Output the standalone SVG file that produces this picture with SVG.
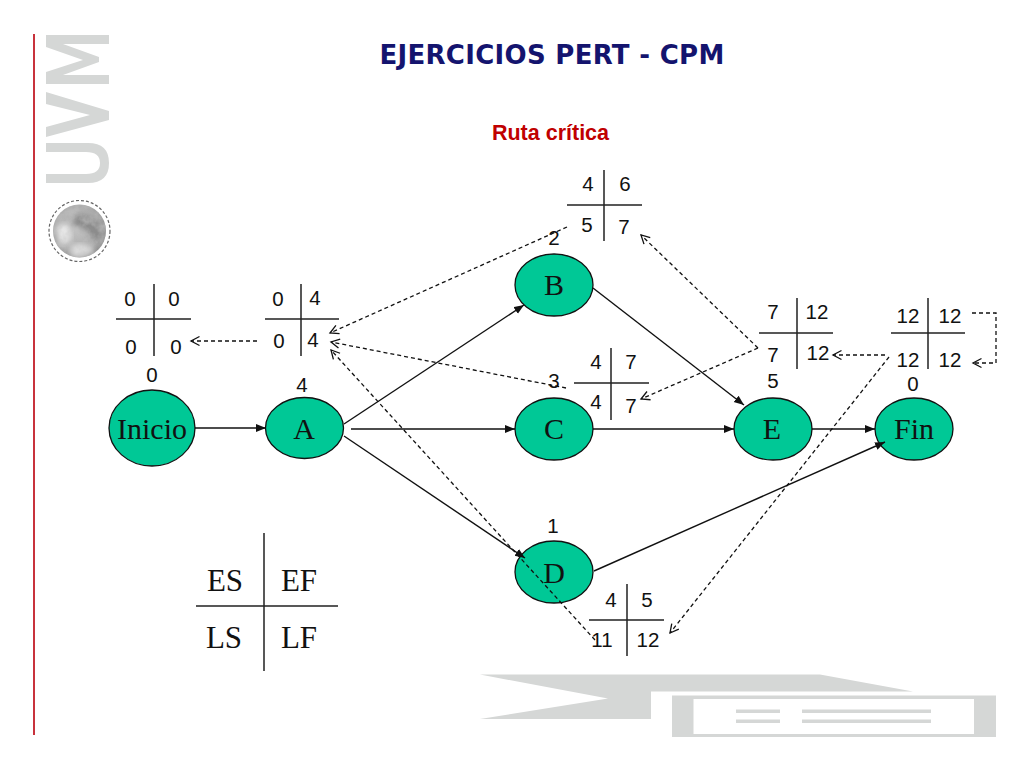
<svg xmlns="http://www.w3.org/2000/svg" width="1024" height="768" viewBox="0 0 1024 768">
<style>
text{font-family:"Liberation Sans",Arial,sans-serif}
.n{font-size:20.5px;fill:#111;text-anchor:middle}
.t{font-family:"Liberation Serif","Times New Roman",serif;font-size:30px;fill:#111;text-anchor:middle}
.b{font-family:"Liberation Serif","Times New Roman",serif;font-size:31px;fill:#111;text-anchor:middle}
.g{stroke:#222;stroke-width:1.5;fill:none}
.e{fill:#00c896;stroke:#111;stroke-width:1.3}
.c{stroke:#111;stroke-width:1.4;fill:none;marker-end:url(#s)}
.d{stroke:#111;stroke-width:1.3;stroke-dasharray:4 3;fill:none;marker-end:url(#o)}
.q{fill:#d5d7d6}
</style>
<defs>
<marker id="s" markerWidth="12" markerHeight="10" refX="10" refY="4" orient="auto" markerUnits="userSpaceOnUse"><path d="M0 0L10 4L0 8z" fill="#111"/></marker>
<marker id="o" markerWidth="12" markerHeight="12" refX="9.5" refY="5.5" orient="auto" markerUnits="userSpaceOnUse"><path d="M1 1L9.5 5.5L1 10" fill="none" stroke="#111" stroke-width="1.3"/></marker>
<radialGradient id="m" cx=".45" cy=".45" r=".6"><stop offset="0" stop-color="#c4c4c4"/><stop offset=".75" stop-color="#aaa"/><stop offset="1" stop-color="#8a8a8a"/></radialGradient>
<filter id="cloud" x="0" y="0" width="1" height="1"><feTurbulence type="fractalNoise" baseFrequency=".12" numOctaves="3" seed="4"/><feColorMatrix values="0 0 0 0 .55 0 0 0 0 .55 0 0 0 0 .55 1.6 0 0 0 -.55"/><feComposite in2="SourceAlpha" operator="in"/></filter>
<filter id="soft"><feGaussianBlur stdDeviation="2.5"/></filter>
<clipPath id="gl"><circle cx="79.5" cy="231" r="26.5"/></clipPath>
</defs>
<g id="decoration">
<rect x="33" y="34" width="2" height="701" fill="#c8323c"/>
<path class="q" d="M46 35H109V44H63L99 57V62L63 75H109V84H46V72L83 60L46 47Z"/>
<path class="q" d="M46 92L109 111V120L46 137V127L90 115L46 104Z"/>
<path class="q" d="M46 143H88Q109 143 109 163Q109 183 88 183H46V174H86Q100 174 100 163Q100 152 86 152H46Z"/>
<circle cx="79.5" cy="231" r="30.5" fill="none" stroke="#666" stroke-width="1.2" stroke-dasharray="3 2"/>
<circle cx="79.5" cy="231" r="26.5" fill="url(#m)"/>
<g clip-path="url(#gl)">
<path d="M76 214Q98 214 104 232Q102 246 90 238Q84 226 72 226Z" fill="#8c8c8c" filter="url(#soft)"/>
<path d="M56 228Q68 216 72 236Q70 246 60 244Z" fill="#e6e6e6" filter="url(#soft)"/>
<path d="M70 246Q84 240 94 250Q84 260 72 256Z" fill="#dcdcdc" filter="url(#soft)"/>
<circle cx="79.5" cy="231" r="26.5" filter="url(#cloud)" opacity=".7"/>
</g>
<path class="q" d="M480 674.5H820L913 691.5H651V719H480L608 698.5Z"/>
<path class="q" fill-rule="evenodd" d="M672 695.5H996V737H672ZM693.500 699V734H974V699Z"/>
<path class="q" d="M736 709.500H780V713H736ZM736 719.500H780V723H736ZM802 709.500H931V713H802ZM802 719.500H931V723H802Z"/>
</g>
<text x="552" y="64" text-anchor="middle" font-weight="700" fill="#14146e" letter-spacing=".3" style="font-family:'DejaVu Sans','Liberation Sans',sans-serif;font-size:26px">EJERCICIOS PERT - CPM</text>
<text x="550.500" y="140" text-anchor="middle" font-weight="700" fill="#c00000" style="font-size:21.500px">Ruta crítica</text>
<g id="node-inicio"><ellipse class="e" cx="152" cy="428" rx="43" ry="38"/><text class="t" x="152" y="439">Inicio</text><text class="n" x="152" y="382">0</text></g>
<g id="node-a"><ellipse class="e" cx="304.500" cy="428" rx="39" ry="30.500"/><text class="t" x="304" y="439">A</text><text class="n" x="302" y="392">4</text></g>
<g id="node-b"><ellipse class="e" cx="554" cy="285" rx="39" ry="31"/><text class="t" x="554" y="295">B</text><text class="n" x="554" y="245">2</text></g>
<g id="node-c"><ellipse class="e" cx="554" cy="429" rx="39" ry="31"/><text class="t" x="554" y="439">C</text><text class="n" x="554" y="388">3</text></g>
<g id="node-d"><ellipse class="e" cx="554" cy="572" rx="39" ry="31"/><text class="t" x="554" y="583">D</text><text class="n" x="553" y="533">1</text></g>
<g id="node-e"><ellipse class="e" cx="773" cy="429" rx="39" ry="31"/><text class="t" x="772" y="439">E</text><text class="n" x="773" y="388">5</text></g>
<g id="node-fin"><ellipse class="e" cx="914" cy="429" rx="39" ry="31"/><text class="t" x="914" y="439">Fin</text><text class="n" x="913" y="391">0</text></g>
<g id="table-inicio"><path class="g" d="M116 319H191M154 284V356"/><text class="n" x="130" y="306">0</text><text class="n" x="174" y="306">0</text><text class="n" x="131" y="354">0</text><text class="n" x="176" y="354">0</text></g>
<g id="table-a"><path class="g" d="M265 319H339M301 284V356"/><text class="n" x="278" y="306">0</text><text class="n" x="315" y="305">4</text><text class="n" x="279" y="348">0</text><text class="n" x="313" y="347">4</text></g>
<g id="table-b"><path class="g" d="M567 205H642M604 170V241"/><text class="n" x="588" y="191">4</text><text class="n" x="625" y="191">6</text><text class="n" x="587" y="232">5</text><text class="n" x="624" y="234">7</text></g>
<g id="table-c"><path class="g" d="M574 383H649M611 348V420"/><text class="n" x="596" y="369">4</text><text class="n" x="631" y="369">7</text><text class="n" x="596" y="409">4</text><text class="n" x="631" y="413">7</text></g>
<g id="table-d"><path class="g" d="M589 620H664M627 584V656"/><text class="n" x="611" y="607">4</text><text class="n" x="647" y="607">5</text><text class="n" x="602" y="647">11</text><text class="n" x="648" y="647">12</text></g>
<g id="table-e"><path class="g" d="M759 333H833M797 298V369"/><text class="n" x="773" y="319">7</text><text class="n" x="817" y="319">12</text><text class="n" x="773" y="362">7</text><text class="n" x="818" y="360">12</text></g>
<g id="table-fin"><path class="g" d="M891 333H965M928 298V369"/><text class="n" x="908" y="323">12</text><text class="n" x="950" y="323">12</text><text class="n" x="908" y="367">12</text><text class="n" x="950" y="367">12</text></g>
<g id="legend"><path class="g" d="M196 606H338M264 533V671"/><text class="b" x="225" y="591">ES</text><text class="b" x="299" y="591">EF</text><text class="b" x="224" y="648">LS</text><text class="b" x="299" y="648">LF</text></g>
<g id="connectors">
<path class="c" d="M195 428H266"/>
<path class="c" d="M344 424L524 305"/>
<path class="c" d="M351 429H515"/>
<path class="c" d="M344 436L525 558"/>
<path class="c" d="M593 288L744 405"/>
<path class="c" d="M593 429H734"/>
<path class="c" d="M812 429H875"/>
<path class="c" d="M594 571L885 442"/>
<path class="d" d="M257 341H191"/>
<path class="d" d="M567 227L330 333"/>
<path class="d" d="M566 388L331 342"/>
<path class="d" d="M595 640L331 350"/>
<path class="d" d="M758 348L641 235"/>
<path class="d" d="M758 348L641 399"/>
<path class="d" d="M885 355H833"/>
<path class="d" d="M889 357L670 633"/>
<path class="d" d="M972 313H996V363H973"/>
</g>
</svg>
